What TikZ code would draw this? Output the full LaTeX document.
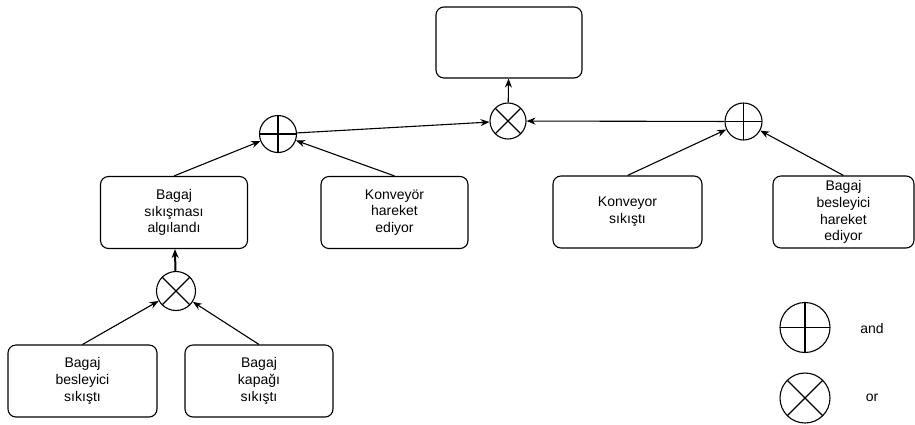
\documentclass[tikz,border=0pt]{standalone}
\usepackage{fontspec}
\setmainfont{Liberation Sans}
\usetikzlibrary{arrows.meta}

\begin{document}
\begin{tikzpicture}[x=1pt,y=-1pt,
	box/.style={draw,rounded corners=8pt,line width=1.1pt,align=center,inner sep=2pt,
		minimum width=147pt,minimum height=72pt,font=\fontsize{14}{16.8}\selectfont},
	gate/.style={draw,circle,line width=1.1pt,inner sep=0pt,minimum size=#1},
	andgate/.style={gate=#1,path picture={\draw[line width=1.1pt]
		(path picture bounding box.north) -- (path picture bounding box.south)
		(path picture bounding box.west) -- (path picture bounding box.east);}},
	orgate/.style={gate=#1,path picture={\draw[line width=1.1pt]
		(path picture bounding box.north west) -- (path picture bounding box.south east)
		(path picture bounding box.north east) -- (path picture bounding box.south west);}},
	link/.style={-{Stealth[length=9pt,width=7pt]},line width=1.1pt},
	lbl/.style={font=\fontsize{14}{16.8}\selectfont}
	]
	\useasboundingbox (0,0) rectangle (915,424);

	% top event and gates
	\node[box,minimum width=146pt,minimum height=71pt] (top) at (509,42.5) {};
	\node[orgate=36pt] (orTop) at (508,121) {};
	\node[andgate=37pt] (andL) at (278,134) {};
	\node[andgate=37pt] (andR) at (743.5,121.5) {};

	% middle row
	\node[box] (jam) at (174,212.5) {Bagaj\\sıkışması\\algılandı};
	\node[box] (convMove) at (394.5,212.5) {Konveyör\\hareket\\ediyor};
	\node[box,minimum width=149pt] (convJam) at (627.5,212) {Konveyor\\sıkıştı};
	\node[box,minimum width=141pt] (feedMove) at (843.5,212) {Bagaj\\besleyici\\hareket\\ediyor};

	% bottom row
	\node[orgate=39pt] (orLow) at (176,291) {};
	\node[box,minimum width=149pt] (feedJam) at (82.5,381) {Bagaj\\besleyici\\sıkıştı};
	\node[box,minimum width=148pt] (lidJam) at (259,381) {Bagaj\\kapağı\\sıkıştı};

	% connectors
	\draw[link] (orTop) -- (top);
	\draw[link] (andL) -- (orTop);
	\draw[link] (andR) -- (orTop);
	\draw[link] (jam.north) -- (andL);
	\draw[link] (convMove.north) -- (andL);
	\draw[link] (convJam.north) -- (andR);
	\draw[link] (feedMove.north) -- (andR);
	\draw[link,line width=2pt] (orLow) -- (jam);
	\draw[link] (feedJam.north) -- (orLow);
	\draw[link] (lidJam.north) -- (orLow);

	% legend
	\node[andgate=50pt] (keyAnd) at (805,327.5) {};
	\node[lbl] (keyAndTxt) at (872,328) {and};
	\node[orgate=50pt] (keyOr) at (805,398) {};
	\node[lbl] (keyOrTxt) at (872,398) {or};
\end{tikzpicture}
\end{document}
